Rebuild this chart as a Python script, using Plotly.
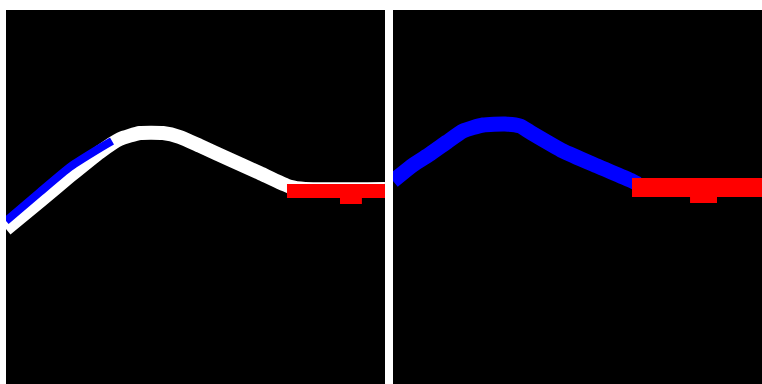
import plotly.graph_objects as go

# ---- data (image-pixel units, 64 px panels, y downward) ----
# Panel 1
p1_white_x = [0, 5.74, 10.81, 15.87, 19.25, 22.63, 26.51, 29.38, 32.76, 37.83, 42.89, 47.96, 50.49, 64]
p1_white_y = [36.98, 32.25, 28.03, 23.98, 21.78, 20.77, 20.77, 21.45, 22.95, 25.25, 27.55, 29.85, 30.23, 30.23]
p1_blue_x = [0, 5.74, 10.81, 15.87, 17.9]
p1_blue_y = [35.63, 30.73, 26.51, 23.30, 22.12]
p1_red_x = [47.45, 64]
p1_red_y = [30.56, 30.56]
p1_step_x = [56.4, 60.1, 60.1, 56.4]
p1_step_y = [31.4, 31.4, 32.76, 32.76]

# Panel 2
p2_blue_x = [0, 3.38, 6.25, 9.12, 11.82, 15.20, 18.91, 21.45, 23.13, 28.71, 34.45, 40.02, 41.37]
p2_blue_y = [28.88, 26.17, 24.32, 22.29, 20.43, 19.42, 19.25, 19.59, 20.60, 23.81, 26.34, 28.71, 29.38]
p2_red_x = [40.36, 64]
p2_red_y = [29.97, 29.97]
p2_step_x = [50.16, 54.71, 54.71, 50.16]
p2_step_y = [31.24, 31.24, 32.59, 32.59]

WHITE = "#ffffff"
BLUE = "#0000ff"
RED = "#ff0000"

fig = go.Figure()

def line(x, y, color, width, xa, ya):
    fig.add_trace(go.Scatter(x=x, y=y, mode="lines", xaxis=xa, yaxis=ya,
                             line=dict(color=color, width=width, shape="spline", smoothing=0.5),
                             hoverinfo="skip", showlegend=False))

def block(x, y, color, xa, ya):
    fig.add_trace(go.Scatter(x=x, y=y, mode="lines", fill="toself", fillcolor=color,
                             xaxis=xa, yaxis=ya, line=dict(width=0, color=color),
                             hoverinfo="skip", showlegend=False))

# panel 1
line(p1_white_x, p1_white_y, WHITE, 14, "x", "y")
line(p1_blue_x, p1_blue_y, BLUE, 8, "x", "y")
line(p1_red_x, p1_red_y, RED, 14, "x", "y")
block(p1_step_x, p1_step_y, RED, "x", "y")

# panel 2
line(p2_blue_x, p2_blue_y, BLUE, 15, "x2", "y2")
line(p2_red_x, p2_red_y, RED, 19, "x2", "y2")
block(p2_step_x, p2_step_y, RED, "x2", "y2")

S = 379 / 64.0
ax = dict(visible=False, showgrid=False, zeroline=False, fixedrange=True)
fig.update_layout(
    width=762, height=384,
    margin=dict(l=6, r=0, t=10, b=0),
    paper_bgcolor="white", plot_bgcolor="black",
    xaxis=dict(domain=[0, 379 / 756], range=[0, 64], **ax),
    yaxis=dict(domain=[0, 1], range=[374 / S, 0], anchor="x", **ax),
    xaxis2=dict(domain=[387 / 756, 1], range=[0, 369 / S], anchor="y2", **ax),
    yaxis2=dict(domain=[0, 1], range=[374 / S, 0], anchor="x2", **ax),
)

fig.write_html("out.html", config={"displayModeBar": False},
               post_script="document.body.style.margin='0px';document.body.style.overflow='hidden';")
